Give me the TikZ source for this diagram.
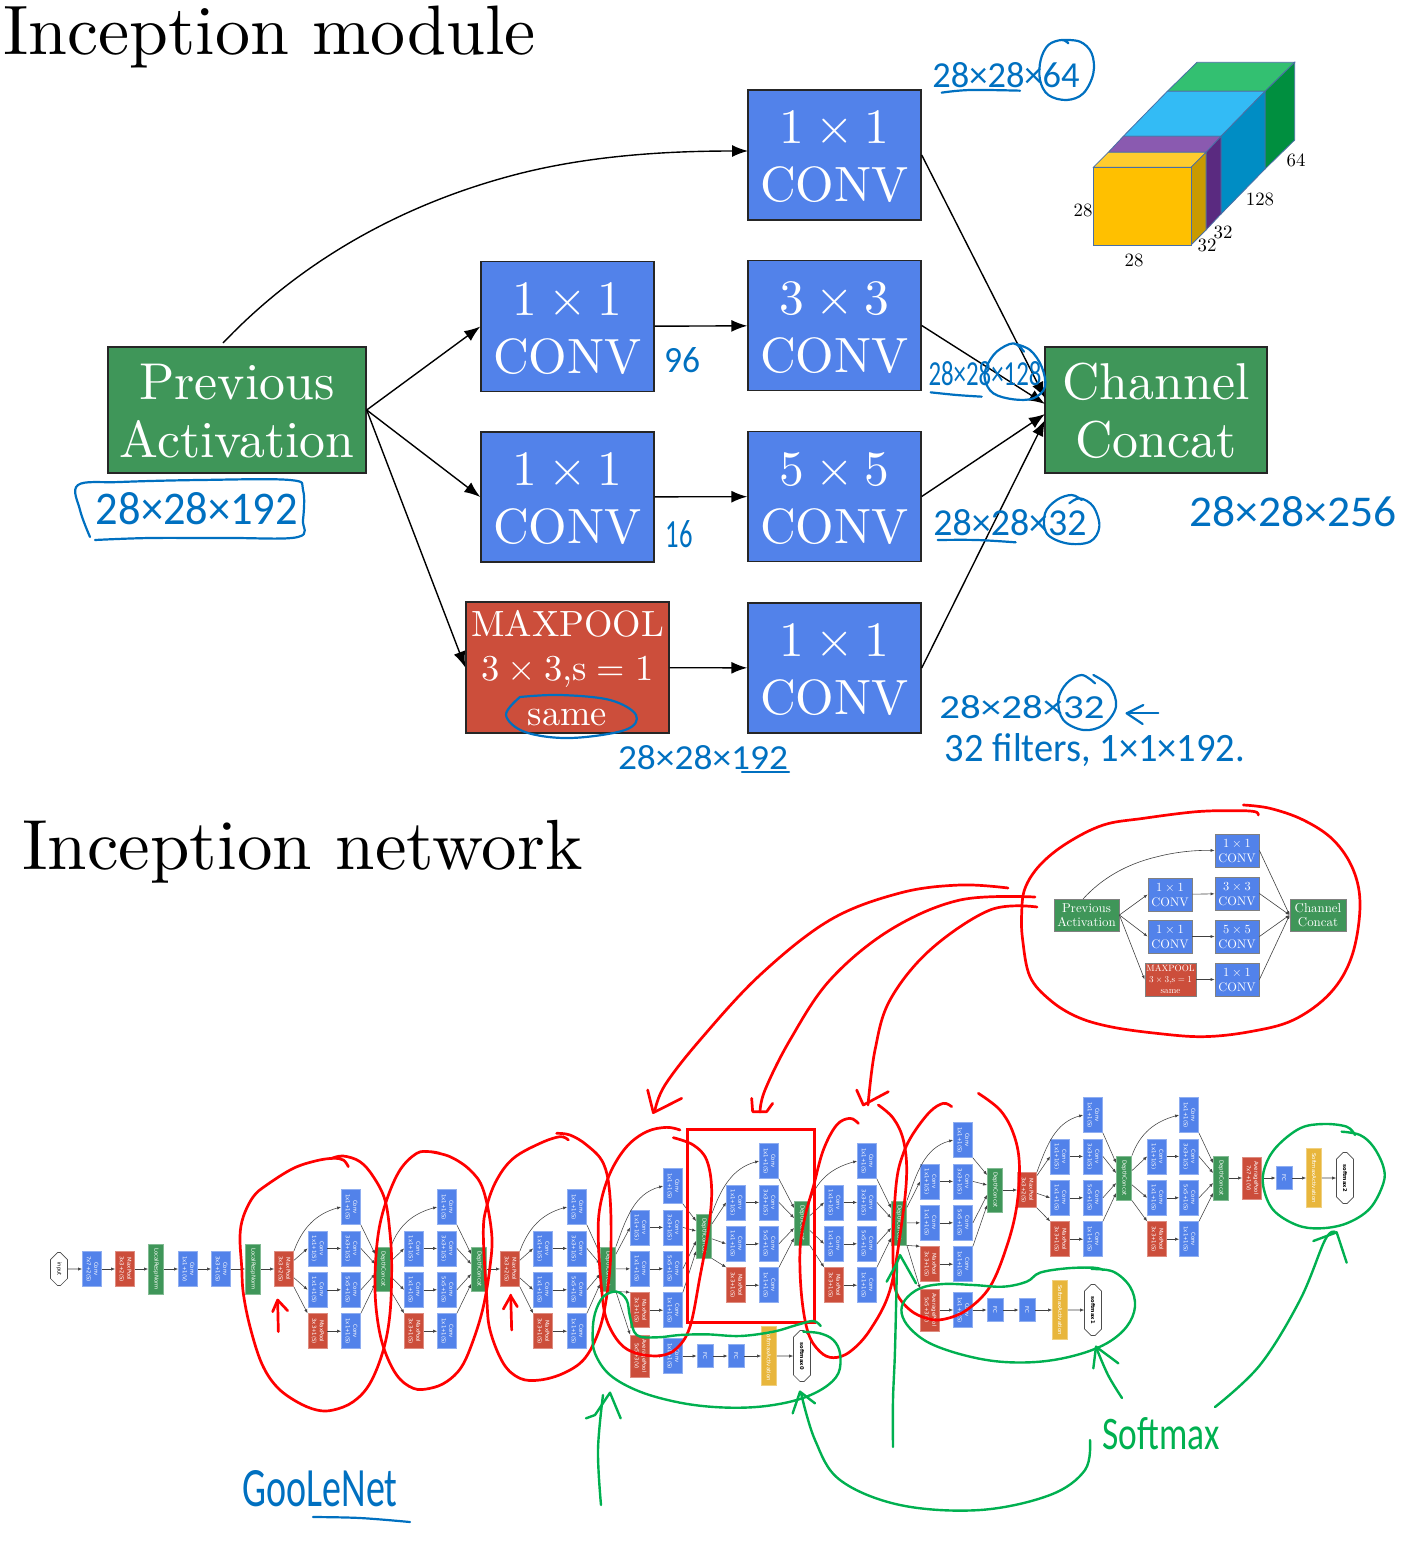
\documentclass[tikz,border=0pt]{standalone}
\usepackage{fontspec}
\usepackage{graphicx}
\usetikzlibrary{arrows.meta,calc,shapes.misc}
\newfontfamily\handf{Carlito}
\newfontfamily\netf{DejaVu Sans}
\definecolor{bluebox}{HTML}{5282EA}
\definecolor{greenbox}{HTML}{3F9659}
\definecolor{redbox}{HTML}{CC4E3B}
\definecolor{yelbox}{HTML}{E8B63C}
\definecolor{penred}{HTML}{FF0000}
\definecolor{pengreen}{HTML}{00B050}
\definecolor{penblue}{HTML}{0070C0}
\definecolor{edgec}{HTML}{4A6FA5}
\definecolor{gtop}{HTML}{33C071}
\definecolor{gside}{HTML}{008F3F}
\definecolor{btop}{HTML}{33BBF5}
\definecolor{bside}{HTML}{008DC4}
\definecolor{ptop}{HTML}{8A5AB0}
\definecolor{pside}{HTML}{5A2A80}
\definecolor{ytop}{HTML}{FFCC2E}
\definecolor{yside}{HTML}{C99A00}
\definecolor{yfront}{HTML}{FFC000}
\newcommand{\tms}{\hspace{.222em}×\hspace{.222em}}
\newcommand{\eqs}{\hspace{.278em}=\hspace{.278em}}
\newcommand{\lmt}[3]{\scalebox{#1}{\vbox to 0pt{\vss\kern2.5pt\hbox{\fontsize{10}{#2}\selectfont\begin{tabular}{@{}c@{}}#3\end{tabular}}\vss}}}
\newcommand{\bigt}[1]{\lmt{4.95}{11.7}{#1}}
\newcommand{\bgt}[1]{\lmt{5.18}{11.2}{#1}}
\newcommand{\pt}[1]{\lmt{3.65}{12.2}{#1}}
\newcommand{\minit}[1]{\lmt{1.24}{11.7}{#1}}
\newcommand{\mgt}[1]{\lmt{1.29}{11.2}{#1}}
\newcommand{\pmt}[1]{\lmt{.91}{12.2}{#1}}
\newcommand{\dimt}[1]{\scalebox{1.88}{\fontsize{10}{12}\selectfont #1}}
\newcommand{\vtwo}[2]{\rotatebox{-90}{\begin{tabular}{@{}c@{}}#1\\#2\end{tabular}}}
\newcommand{\vone}[1]{\rotatebox{-90}{#1}}
\newcommand{\ink}[2]{\draw[#1] plot[smooth,tension=.6] coordinates {#2};}
\newcommand{\handtxt}[7]{\node[inner sep=0pt,text=#6] (#1) at (#2,#3) {\resizebox{#4pt}{#5pt}{\handf #7}};}
\newcommand{\slab}[6]{%
 \fill[#5,draw=edgec,line width=.8pt] (1093.3+#1,167.3+#2) -- (1191+#1,167.3+#2) -- (1191+#3,167.3+#4) -- (1093.3+#3,167.3+#4) -- cycle;
 \fill[#6,draw=edgec,line width=.8pt] (1191+#1,167.3+#2) -- (1191+#1,245+#2) -- (1191+#3,245+#4) -- (1191+#3,167.3+#4) -- cycle;}
\newcommand{\incmod}[7]{%
 \pgfmathsetmacro{\ra}{#5}\pgfmathsetmacro{\rb}{#5+41.4}\pgfmathsetmacro{\rc}{#5+82.8}\pgfmathsetmacro{\rd}{#5+124.2}
 \node[cbox] (#1a) at (#4,\ra) {\vtwo{Conv}{1x1+1(S)}};
 \node[cbox] (#1b) at (#3,\rb) {\vtwo{Conv}{1x1+1(S)}};
 \node[cbox] (#1c) at (#4,\rb) {\vtwo{Conv}{3x3+1(S)}};
 \node[cbox] (#1d) at (#3,\rc) {\vtwo{Conv}{1x1+1(S)}};
 \node[cbox] (#1e) at (#4,\rc) {\vtwo{Conv}{5x5+1(S)}};
 \node[pbox] (#1f) at (#3,\rd) {\vtwo{MaxPool}{3x3+1(S)}};
 \node[cbox] (#1g) at (#4,\rd) {\vtwo{Conv}{1x1+1(S)}};
 \node[dbox] (#1z) at (#6,#7) {\vone{DepthConcat}};
 \draw[narr] (#2.north east) to[out=70,in=195] (#1a.west);
 \draw[narr] (#2) -- (#1b.west);
 \draw[narr] (#2) -- (#1d.west);
 \draw[narr] (#2.south east) -- (#1f.north west);
 \draw[narr] (#1b) -- (#1c);
 \draw[narr] (#1d) -- (#1e);
 \draw[narr] (#1f) -- (#1g);
 \draw[narr] (#1a.south east) -- ($(#1z.west)+(0,-15)$);
 \draw[narr] (#1c.east) -- ($(#1z.west)+(0,-5)$);
 \draw[narr] (#1e.east) -- ($(#1z.west)+(0,5)$);
 \draw[narr] (#1g.north east) -- ($(#1z.west)+(0,15)$);
}
\tikzset{
 bigbox/.style={draw=black!85,line width=1.4pt,inner sep=0pt,align=center,text=white},
 bblue/.style={bigbox,fill=bluebox,minimum width=173pt,minimum height=130pt},
 bgreen/.style={bigbox,fill=greenbox},
 bred/.style={bigbox,fill=redbox,minimum width=203pt,minimum height=131pt},
 barr/.style={-{Latex[length=16pt,width=12pt]},line width=1.4pt,black},
 minibox/.style={draw=black!50,line width=.8pt,inner sep=0pt,align=center,text=white},
 mblue/.style={minibox,fill=bluebox,minimum width=44pt,minimum height=33pt},
 mgreen/.style={minibox,fill=greenbox},
 mred/.style={minibox,fill=redbox,minimum width=51pt,minimum height=33pt},
 marr/.style={-{Latex[length=4pt,width=3pt]},line width=.6pt,black!75},
 netbox/.style={inner sep=0pt,align=center,text=white,line width=.8pt,font=\netf\fontsize{5.4}{7.5}\selectfont},
 cbox/.style={netbox,fill=bluebox,draw=bluebox!65!white,minimum width=19pt,minimum height=35pt},
 pbox/.style={netbox,fill=redbox,draw=redbox!65!white,minimum width=19pt,minimum height=35pt},
 apbox/.style={netbox,fill=redbox,draw=redbox!65!white,minimum width=19pt,minimum height=42pt},
 dbox/.style={netbox,fill=greenbox,draw=greenbox!65!white,minimum width=15pt,minimum height=44pt},
 lbox/.style={netbox,fill=greenbox,draw=greenbox!65!white,minimum width=15pt,minimum height=50pt},
 fbox/.style={netbox,fill=bluebox,draw=bluebox!65!white,minimum width=16pt,minimum height=23pt},
 sbox/.style={netbox,fill=yelbox,draw=yelbox!65!white,minimum width=15pt,minimum height=59pt},
 obox/.style={shape=chamfered rectangle,chamfered rectangle xsep=4.5pt,chamfered rectangle ysep=11pt,draw=black!70,fill=white,inner sep=0pt,line width=.7pt,text=black,minimum width=17pt,minimum height=51pt,font=\netf\fontsize{5.2}{6}\selectfont},
 ibox/.style={obox,chamfered rectangle ysep=7pt,minimum height=33pt},
 narr/.style={-{Latex[length=4pt,width=3.2pt]},line width=.55pt,black!75},
 redpen/.style={draw=penred,line width=2.7pt,line cap=round,line join=round},
 greenpen/.style={draw=pengreen,line width=2.4pt,line cap=round,line join=round},
 bluepen/.style={draw=penblue,line width=2.2pt,line cap=round,line join=round},
 zA/.style={shift={(0,1100)},scale=0.33333},
 zB/.style={shift={(480,1090)},scale=0.33333},
 zC/.style={shift={(900,1080)},scale=0.33333},
 zD/.style={shift={(1010,790)},scale=0.33333},
 zE/.style={shift={(920,30)},scale=0.33333},
 zF/.style={shift={(900,330)},scale=0.33333},
 lbl/.style={inner sep=0pt},
}
\begin{document}
\begin{tikzpicture}[x=1pt,y=-1pt]
\useasboundingbox (0,0) rectangle (1406,1542);
% titles
\node[anchor=base west,inner sep=0pt] (t1) at (3,54) {\scalebox{7.0}{\fontsize{10}{12}\selectfont Inception module}};
\node[anchor=base west,inner sep=0pt] (t2) at (22,869) {\scalebox{7.1}{\fontsize{10}{12}\selectfont Inception network}};
% large module
\node[bgreen,minimum width=258pt,minimum height=126pt] (prev) at (237,410) {\bgt{Previous\\Activation}};
\node[bblue] (topc) at (834.5,155) {\bigt{1\tms 1\\CONV}};
\node[bblue] (a1) at (567.5,326.5) {\bigt{1\tms 1\\CONV}};
\node[bblue] (a2) at (834.5,325.5) {\bigt{3\tms 3\\CONV}};
\node[bblue] (b1) at (567.5,497) {\bigt{1\tms 1\\CONV}};
\node[bblue] (b2) at (834.5,496.5) {\bigt{5\tms 5\\CONV}};
\node[bred] (mp) at (567.5,667.5) {\pt{MAXPOOL\\3\tms 3,s\eqs 1\\same}};
\node[bblue] (c2) at (834.5,668) {\bigt{1\tms 1\\CONV}};
\node[bgreen,minimum width=222pt,minimum height=126pt] (cc) at (1156,410) {\bgt{Channel\\Concat}};
\coordinate (ci1) at (1045,398);
\coordinate (ci2) at (1045,404);
\coordinate (ci3) at (1045,414);
\coordinate (ci4) at (1045,420);
\coordinate (pstart) at (223,343);
\coordinate (ptop) at (748,151);
\draw[barr] (pstart) .. controls (300,262) and (400,205) .. (514,175) .. controls (590,155) and (670,151) .. (ptop);
\draw[barr] (prev.east) -- (a1.west);
\draw[barr] (prev.east) -- (b1.west);
\draw[barr] (prev.east) -- (mp.west);
\draw[barr] (a1) -- (a2);
\draw[barr] (b1) -- (b2);
\draw[barr] (mp) -- (c2);
\draw[barr] (topc.east) -- (ci1);
\draw[barr] (a2.east) -- (ci2);
\draw[barr] (b2.east) -- (ci3);
\draw[barr] (c2.east) -- (ci4);
% cube
\slab{74}{-76}{103.7}{-105}{gtop}{gside}
\slab{30}{-31}{74}{-76}{btop}{bside}
\slab{15}{-15}{30}{-31}{ptop}{pside}
\slab{0}{0}{15}{-15}{ytop}{yside}
\fill[yfront,draw=edgec,line width=.8pt] (1093.3,167.3) rectangle (1191,245);
\node[lbl] (l1) at (1083,210) {\dimt{28}};
\node[lbl] (l2) at (1134,260) {\dimt{28}};
\node[lbl] (l3) at (1207,245) {\dimt{32}};
\node[lbl] (l4) at (1223,232) {\dimt{32}};
\node[lbl] (l5) at (1260,199) {\dimt{128}};
\node[lbl] (l6) at (1296,160) {\dimt{64}};
% mini module
\node[mgreen,minimum width=65pt,minimum height=32pt] (mprev) at (1086.5,915) {\mgt{Previous\\Activation}};
\node[mblue] (mtop) at (1237,850.5) {\minit{1\tms 1\\CONV}};
\node[mblue] (ma1) at (1170,894.5) {\minit{1\tms 1\\CONV}};
\node[mblue] (ma2) at (1237,893.5) {\minit{3\tms 3\\CONV}};
\node[mblue] (mb1) at (1170,936.5) {\minit{1\tms 1\\CONV}};
\node[mblue] (mb2) at (1237,936.5) {\minit{5\tms 5\\CONV}};
\node[mred] (mmp) at (1170.5,979.5) {\pmt{MAXPOOL\\3\tms 3,s\eqs 1\\same}};
\node[mblue] (mc2) at (1237,979.5) {\minit{1\tms 1\\CONV}};
\node[mgreen,minimum width=56pt,minimum height=32pt] (mcc) at (1318,915) {\mgt{Channel\\Concat}};
\coordinate (mstart) at (1083,899);
\draw[marr] (mstart) .. controls (1102,878) and (1127,864) .. (1156,857) .. controls (1175,852) and (1195,850) .. (mtop.west);
\draw[marr] (mprev.east) -- (ma1.west);
\draw[marr] (mprev.east) -- (mb1.west);
\draw[marr] (mprev.east) -- (mmp.west);
\draw[marr] (ma1) -- (ma2);
\draw[marr] (mb1) -- (mb2);
\draw[marr] (mmp) -- (mc2);
\draw[marr] (mtop.east) -- (mcc.west);
\draw[marr] (ma2.east) -- (mcc.west);
\draw[marr] (mb2.east) -- (mcc.west);
\draw[marr] (mc2.east) -- (mcc.west);
% network stem
\node[ibox] (inp) at (59,1269) {\vone{input}};
\node[cbox] (s1) at (92,1269) {\vtwo{Conv}{7x7+2(S)}};
\node[pbox] (s2) at (125,1269) {\vtwo{MaxPool}{3x3+2(S)}};
\node[lbox] (s3) at (156,1269) {\vone{LocalRespNorm}};
\node[cbox] (s4) at (188,1269) {\vtwo{Conv}{1x1+1(V)}};
\node[cbox] (s5) at (221,1269) {\vtwo{Conv}{3x3+1(S)}};
\node[lbox] (s6) at (253,1269) {\vone{LocalRespNorm}};
\node[pbox] (s7) at (284,1269) {\vtwo{MaxPool}{3x3+2(S)}};
\draw[narr] (inp) -- (s1);
\draw[narr] (s1) -- (s2);
\draw[narr] (s2) -- (s3);
\draw[narr] (s3) -- (s4);
\draw[narr] (s4) -- (s5);
\draw[narr] (s5) -- (s6);
\draw[narr] (s6) -- (s7);
\incmod{ma}{s7}{317.5}{351}{1207}{383}{1269}
\incmod{mc}{maz}{414}{447}{1207}{479}{1269}
\node[pbox] (pa) at (510,1269) {\vtwo{MaxPool}{3x3+2(S)}};
\draw[narr] (mcz) -- (pa);
\incmod{md}{pa}{543}{577}{1207}{608}{1269}
\incmod{me}{mdz}{640}{673}{1186}{704}{1236}
\incmod{mg}{mez}{736}{769}{1161}{802}{1223}
\incmod{mh}{mgz}{834}{867}{1161}{899}{1223}
\incmod{mi}{mhz}{930}{963}{1140}{995}{1190}
\node[pbox] (pb) at (1027,1190) {\vtwo{MaxPool}{3x3+2(S)}};
\draw[narr] (miz) -- (pb);
\incmod{mj}{pb}{1060}{1093}{1115}{1124}{1178}
\incmod{mk}{mjz}{1157}{1189}{1115}{1221}{1178}
% aux 0
\node[apbox] (xa) at (640,1356) {\vtwo{AveragePool}{5x5+3(V)}};
\node[cbox] (xb) at (673,1356) {\vtwo{Conv}{1x1+1(S)}};
\node[fbox] (xc) at (705,1356) {\vone{FC}};
\node[fbox] (xd) at (736,1356) {\vone{FC}};
\node[sbox] (xe) at (769,1356) {\vone{SoftmaxActivation}};
\node[obox] (xf) at (802,1356) {\vone{\bfseries softmax0}};
\draw[narr] (mdz.south east) -- (xa.north west);
\draw[narr] (xa) -- (xb);
\draw[narr] (xb) -- (xc);
\draw[narr] (xc) -- (xd);
\draw[narr] (xd) -- (xe);
\draw[narr] (xe) -- (xf);
% aux 1
\node[apbox] (ya) at (930,1310) {\vtwo{AveragePool}{5x5+3(V)}};
\node[cbox] (yb) at (963,1310) {\vtwo{Conv}{1x1+1(S)}};
\node[fbox] (yc) at (995,1310) {\vone{FC}};
\node[fbox] (yd) at (1027,1310) {\vone{FC}};
\node[sbox] (ye) at (1060,1310) {\vone{SoftmaxActivation}};
\node[obox] (yf) at (1093,1310) {\vone{\bfseries softmax1}};
\draw[narr] (mhz.south east) -- (ya.north west);
\draw[narr] (ya) -- (yb);
\draw[narr] (yb) -- (yc);
\draw[narr] (yc) -- (yd);
\draw[narr] (yd) -- (ye);
\draw[narr] (ye) -- (yf);
% output
\node[apbox] (za) at (1252,1178) {\vtwo{AveragePool}{7x7+1(V)}};
\node[fbox] (zc) at (1284,1178) {\vone{FC}};
\node[sbox] (ze) at (1314,1178) {\vone{SoftmaxActivation}};
\node[obox] (zf) at (1345,1178) {\vone{\bfseries softmax2}};
\draw[narr] (mkz) -- (za);
\draw[narr] (za) -- (zc);
\draw[narr] (zc) -- (ze);
\draw[narr] (ze) -- (zf);
% red ink
\draw[penred,line width=3pt] (687,1129) rectangle (814,1322);
\begin{scope}[zA]
\ink{redpen}{(1045,200)(1030,180)(1000,175)(950,182)(880,205)(800,255)(760,290)(730,350)(720,410)(725,500)(730,580)(750,680)(785,790)(830,860)(890,905)(950,930)(1000,930)(1060,905)(1110,850)(1150,750)(1170,640)(1175,500)(1170,400)(1155,300)(1120,230)(1080,185)(1030,168)(995,175)}
\ink{redpen}{(1320,160)(1290,155)(1250,160)(1200,210)(1160,300)(1135,400)(1125,530)(1130,640)(1150,740)(1190,825)(1240,865)(1290,865)(1340,845)(1385,800)(1420,720)(1450,620)(1470,500)(1475,400)(1450,270)(1410,210)(1350,170)(1290,155)}
\draw[redpen] (835,695) -- (833,605);
\draw[redpen] (818,635) -- (833,600) -- (863,632);
\end{scope}
\begin{scope}[zB]
\ink{redpen}{(265,150)(240,140)(180,160)(100,205)(50,270)(20,350)(10,430)(20,620)(30,720)(70,820)(120,865)(180,870)(250,850)(310,810)(350,740)(375,650)(392,500)(390,320)(370,220)(320,165)(270,135)(230,130)}
\ink{redpen}{(600,120)(560,112)(500,125)(440,170)(390,250)(360,350)(355,450)(365,600)(380,690)(420,760)(470,790)(540,797)(590,775)(630,710)(660,560)(685,420)(695,300)(680,210)(640,165)(580,143)}
\ink{redpen}{(1135,100)(1110,85)(1070,105)(1030,180)(1000,290)(975,380)(960,480)(965,620)(985,730)(1020,785)(1060,803)(1110,785)(1170,720)(1230,600)(1265,400)(1280,250)(1270,150)(1240,85)(1195,45)}
\draw[redpen] (95,720) -- (92,615);
\draw[redpen] (70,657) -- (92,618) -- (112,650);
\draw[redpen] (503,0) -- (520,68) -- (605,25);
\draw[redpen] (815,25) -- (818,65) -- (860,65) -- (878,40);
\draw[redpen] (1130,0) -- (1150,45) -- (1225,5);
\end{scope}
\begin{scope}[zC]
\ink{redpen}{(155,80)(130,70)(90,95)(40,160)(10,220)(-10,300)(-20,450)(-20,570)(-10,640)(30,690)(80,715)(130,718)(200,690)(270,620)(320,500)(350,380)(358,250)(340,160)(300,90)(235,40)}
\end{scope}
\begin{scope}[zD]
\ink{redpen}{(745,75)(735,65)(680,62)(560,65)(400,85)(280,105)(170,160)(90,225)(45,295)(35,370)(38,450)(60,560)(120,630)(200,680)(300,710)(440,730)(580,740)(720,725)(850,690)(960,610)(1025,500)(1050,350)(1030,240)(970,150)(880,90)(780,55)(700,45)}
\end{scope}
\ink{redpen}{(1008,888)(960,885)(900,893)(830,920)(760,975)(700,1040)(665,1085)(655,1110)}
\ink{redpen}{(1035,897)(960,900)(890,930)(830,980)(790,1040)(765,1090)(760,1112)}
\ink{redpen}{(1037,907)(990,910)(930,950)(890,1000)(875,1050)(868,1105)}
% green ink
\begin{scope}[zB]
\ink{greenpen}{(1022,708)(1000,693)(950,705)(880,725)(780,738)(680,733)(600,735)(530,742)(470,735)(450,680)(440,630)(410,605)(370,620)(345,670)(338,730)(345,790)(390,855)(480,905)(600,938)(720,952)(840,950)(950,930)(1030,895)(1075,850)(1080,790)(1060,750)(1020,730)(970,725)}
\draw[greenpen] (318,985) -- (345,975) -- (390,908) -- (422,985);
\draw[greenpen] (1220,575) -- (1250,520) -- (1260,495) -- (1308,580);
\draw[greenpen] (938,970) -- (960,905) -- (1005,940);
\end{scope}
\begin{scope}[zC]
\ink{greenpen}{(610,570)(580,563)(500,565)(420,578)(380,605)(310,620)(220,615)(130,612)(60,625)(15,660)(5,700)(30,745)(90,790)(190,825)(300,845)(420,845)(530,825)(620,790)(680,740)(705,680)(690,620)(640,575)(575,567)}
\ink{greenpen}{(1365,165)(1340,140)(1270,132)(1200,145)(1130,200)(1095,260)(1090,320)(1120,390)(1190,435)(1260,445)(1340,430)(1410,385)(1450,310)(1450,260)(1420,200)(1380,165)(1325,155)}
\draw[greenpen] (580,865) -- (588,800) -- (655,850);
\draw[greenpen] (1240,483) -- (1310,457) -- (1340,548);
\end{scope}
\ink{greenpen}{(601,1505)(598,1450)(603,1395)}
\ink{greenpen}{(893,1447)(893,1400)(895,1350)(897,1263)}
\ink{greenpen}{(1122,1398)(1108,1375)(1096,1347)}
\ink{greenpen}{(1215,1407)(1260,1365)(1300,1300)(1325,1240)(1335,1232)}
\ink{greenpen}{(1090,1440)(1085,1470)(1050,1495)(980,1510)(900,1505)(840,1480)(815,1440)(801,1393)}
\handtxt{h12}{1161}{1434}{117}{32}{pengreen}{Softmax}
% blue ink
\handtxt{h1}{1006}{75}{147}{25}{penblue}{28×28×64}
\handtxt{h2}{682}{360}{36}{25}{penblue}{96}
\handtxt{h3}{679}{534}{27}{27}{penblue}{16}
\handtxt{h4}{197}{509}{202}{32}{penblue}{28×28×192}
\handtxt{h5}{985}{374}{113}{24}{penblue}{28×28×128}
\handtxt{h6}{1010}{523}{153}{26}{penblue}{28×28×32}
\handtxt{h7}{1293}{512}{207}{30}{penblue}{28×28×256}
\handtxt{h8}{1022}{707}{165}{23}{penblue}{28×28×32}
\handtxt{h9}{1095}{750}{300}{28}{penblue}{32 filters, 1×1×192.}
\handtxt{h10}{703}{758}{170}{24}{penblue}{28×28×192}
\handtxt{h11}{320}{1489}{155}{36}{penblue}{GooLeNet}
\ink{bluepen}{(90,537)(80,510)(78,485)(120,482)(200,480)(290,480)(303,490)(303,520)(298,537)(230,538)(150,538)(95,540)}
\ink{bluepen}{(520,697)(560,695)(610,700)(636,715)(625,730)(570,738)(525,732)(506,715)(520,697)}
\draw[bluepen] (742,772) -- (789,772);
\ink{bluepen}{(313,1517)(360,1518)(410,1522)}
\begin{scope}[zE]
\ink{bluepen}{(445,40)(425,30)(385,45)(362,90)(360,150)(385,195)(440,210)(490,190)(520,130)(515,70)(480,35)(425,30)}
\ink{bluepen}{(65,188)(150,180)(300,182)}
\end{scope}
\begin{scope}[zF]
\ink{bluepen}{(372,65)(340,40)(290,65)(260,110)(255,150)(280,190)(340,208)(400,205)(435,170)(425,110)(390,60)(340,40)}
\ink{bluepen}{(92,187)(170,195)(245,200)}
\ink{bluepen}{(545,510)(515,495)(470,510)(435,550)(440,610)(500,640)(570,635)(598,590)(580,530)(540,505)(508,520)}
\ink{bluepen}{(113,630)(230,630)(347,637)}
\ink{bluepen}{(585,1060)(545,1035)(500,1060)(475,1110)(490,1170)(550,1200)(610,1185)(648,1130)(630,1070)(580,1035)}
\draw[bluepen] (775,1150) -- (680,1150);
\draw[bluepen] (730,1125) -- (680,1150) -- (728,1182);
\end{scope}
\end{tikzpicture}
\end{document}
